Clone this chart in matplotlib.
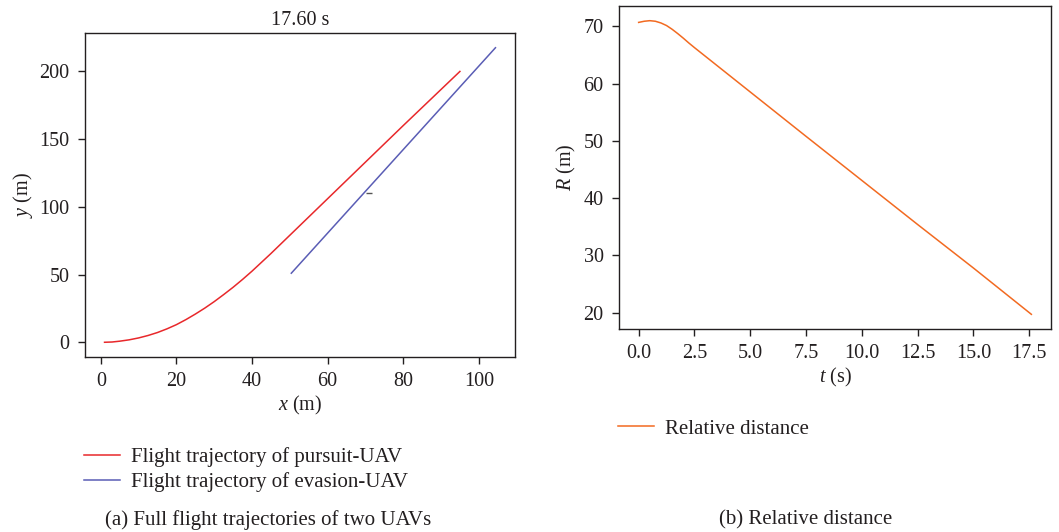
import matplotlib
matplotlib.use("Agg")
import matplotlib.pyplot as plt

plt.rcParams['font.family'] = ['Liberation Serif', 'DejaVu Serif']
plt.rcParams['mathtext.fontset'] = 'custom'
plt.rcParams['mathtext.rm'] = 'Liberation Serif'
plt.rcParams['mathtext.it'] = 'Liberation Serif:italic'

TXT = '#231f20'
plt.rcParams['text.color'] = TXT
plt.rcParams['axes.labelcolor'] = TXT
plt.rcParams['xtick.color'] = TXT
plt.rcParams['ytick.color'] = TXT

# ---- data ----
pursuit_x = [1, 3, 5, 7.5, 10, 12.5, 15, 17.5, 20, 22.5, 25, 27.5, 30, 32.5, 35, 37.5,
             40, 45, 50, 60, 70, 80, 95]
pursuit_y = [0, 0.2, 0.8, 1.8, 3.2, 5.0, 7.2, 9.9, 13.0, 16.7, 20.8, 25.2, 30.0, 35.2,
             40.6, 46.4, 52.5, 65.5, 79, 106, 133, 160, 200]
evasion_x = [50.4, 104.4]
evasion_y = [51, 217.5]
mark_x = [71]
mark_y = [110]

t = [0, 0.25, 0.5, 0.75, 1.0, 1.25, 1.5, 1.75, 2.0, 2.25, 2.5, 3.0, 5, 7.5, 10, 12.5, 15, 17.6]
R = [70.7, 70.9, 71.0, 70.9, 70.6, 70.15, 69.5, 68.75, 67.95, 67.1, 66.3, 64.75, 58.55,
     50.8, 43.1, 35.4, 27.8, 19.7]

title_a = "17.60 s"
RED = '#e8282b'
BLUE = '#5a5db5'
ORANGE = '#f26a21'

W, H = 1059, 532
fig = plt.figure(figsize=(W / 100, H / 100), dpi=100)

def ax_px(l, t_, r, b):
    return fig.add_axes([l / W, 1 - b / H, (r - l) / W, (b - t_) / H])

FS = 14.5
LFS = 15
ax1 = ax_px(85, 33, 515, 357)
ax2 = ax_px(619, 6, 1051, 329)

l1, = ax1.plot(pursuit_x, pursuit_y, color=RED, lw=1.1, label='Flight trajectory of pursuit-UAV')
l2, = ax1.plot(evasion_x, evasion_y, color=BLUE, lw=1.1, label='Flight trajectory of evasion-UAV')
ax1.plot(mark_x, mark_y, marker='_', color='#555555', markersize=5, lw=0)
ax1.set_title(title_a, fontsize=FS, color=TXT, pad=6)
ax1.set_xlabel(r'$x$ (m)', fontsize=FS, labelpad=2)
ax1.set_ylabel(r'$y$ (m)', fontsize=FS, labelpad=3)
ax1.set_xticks([0, 20, 40, 60, 80, 100])
ax1.set_yticks([0, 50, 100, 150, 200])

l3, = ax2.plot(t, R, color=ORANGE, lw=1.1, label='Relative distance')
ax2.set_xlabel(r'$t$ (s)', fontsize=FS, labelpad=2)
ax2.set_ylabel(r'$R$ (m)', fontsize=FS, labelpad=4)
ax2.set_xticks([0, 2.5, 5, 7.5, 10, 12.5, 15, 17.5])
ax2.set_xticklabels(['0.0', '2.5', '5.0', '7.5', '10.0', '12.5', '15.0', '17.5'])
ax2.set_yticks([20, 30, 40, 50, 60, 70])

for ax in (ax1, ax2):
    ax.tick_params(labelsize=FS, length=5, width=1, colors=TXT, pad=6)
    for s in ax.spines.values():
        s.set_color(TXT)
        s.set_linewidth(1)

fig.legend(handles=[l1, l2], loc='upper left', bbox_to_anchor=(84 / W, 1 - 447 / H),
           frameon=False, fontsize=LFS, handlelength=1.75, handletextpad=0.5,
           labelspacing=0.25, borderaxespad=0, borderpad=0)
fig.legend(handles=[l3], loc='upper left', bbox_to_anchor=(618 / W, 1 - 419 / H),
           frameon=False, fontsize=LFS, handlelength=1.75, handletextpad=0.5,
           borderaxespad=0, borderpad=0)

fig.text(268 / W, 1 - 520 / H, '(a) Full flight trajectories of two UAVs', fontsize=LFS,
         ha='center', va='center')
fig.text(806 / W, 1 - 520 / H, '(b) Relative distance', fontsize=LFS,
         ha='center', va='center')

fig.savefig('out.png', dpi=100)
